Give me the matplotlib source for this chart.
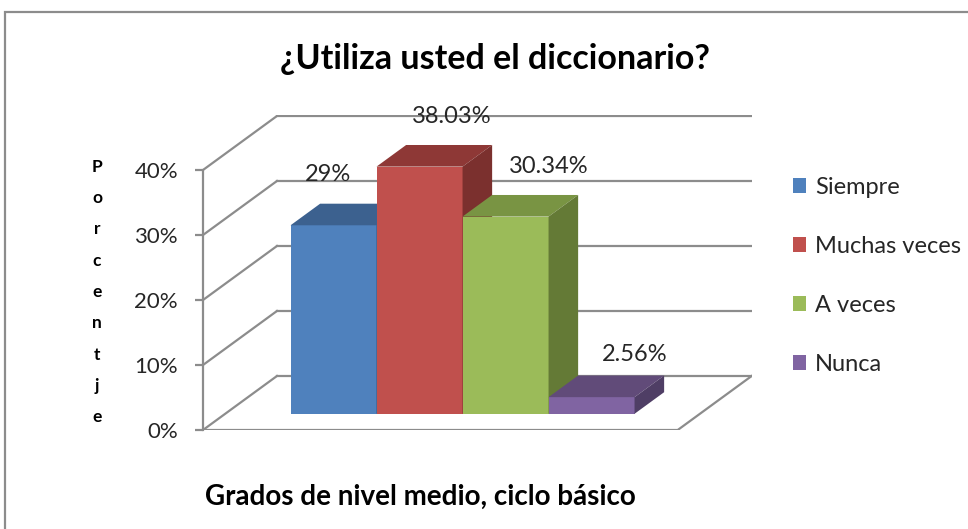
import matplotlib
matplotlib.use("Agg")
import matplotlib.pyplot as plt
from matplotlib.patches import Polygon, Patch, Rectangle

# ---- data ----
categories = ["Siempre", "Muchas veces", "A veces", "Nunca"]
values = [29.0, 38.03, 30.34, 2.56]
value_labels = ["29%", "38.03%", "30.34%", "2.56%"]
yticks = [0, 10, 20, 30, 40]
ytick_labels = ["0%", "10%", "20%", "30%", "40%"]
title = "¿Utiliza usted el diccionario?"
xlabel = "Grados de nivel medio, ciclo básico"
ylabel = "Porcentje"

# ---- style ----
front_colors = ["#4F81BD", "#C0504D", "#9BBB59", "#8064A2"]
top_colors = ["#3C618F", "#8E3836", "#799443", "#614B79"]
side_colors = ["#34547C", "#7B302E", "#647A36", "#4F3E65"]
grid_color = "#8C8C8C"
FONT = "Lato"

W, H = 968, 529
fig = plt.figure(figsize=(W / 100, H / 100), dpi=100)

# oblique depth projection (in data units)
DX, DY = 0.86, 8.31
Z0, Z1 = 0.3, 0.7
GAP = 0.76
floor_w = GAP * 2 + len(values)
px_per_x, px_per_y = 86.0, 6.5
ax_left_px, ax_bottom_px = 203, 430
xmax = floor_w + DX
ymax = 48.46
ax = fig.add_axes([ax_left_px / W, 1 - ax_bottom_px / H,
                   xmax * px_per_x / W, ymax * px_per_y / H])
ax.set_xlim(0, xmax)
ax.set_ylim(0, ymax)
ax.patch.set_visible(False)
for s in ["top", "right", "bottom"]:
    ax.spines[s].set_visible(False)
ax.spines["left"].set_bounds(0, 40)
ax.spines["left"].set_color(grid_color)
ax.spines["left"].set_linewidth(1.6)
ax.set_xticks([])
ax.set_yticks(yticks)
ax.set_yticklabels(ytick_labels, fontfamily=FONT, fontsize=16, color="#262626")
ax.tick_params(axis="y", length=6, width=1.6, color=grid_color, pad=12)

# walls: back gridlines and side diagonals
for t in yticks:
    ax.plot([DX, xmax], [t + DY, t + DY], color=grid_color, lw=1.6, zorder=1)
    ax.plot([0, DX], [t, t + DY], color=grid_color, lw=1.6, zorder=1)
# floor
ax.plot([0, floor_w, xmax], [0, 0, DY], color=grid_color, lw=1.6, zorder=1)

# bars
for i, v in enumerate(values):
    xl = GAP + i
    ax.bar(xl + Z0 * DX, v, width=1, bottom=Z0 * DY, align="edge",
           color=front_colors[i], linewidth=0, zorder=2 + i)
    top = [(xl + Z0 * DX, v + Z0 * DY), (xl + Z1 * DX, v + Z1 * DY),
           (xl + 1 + Z1 * DX, v + Z1 * DY), (xl + 1 + Z0 * DX, v + Z0 * DY)]
    side = [(xl + 1 + Z0 * DX, Z0 * DY), (xl + 1 + Z1 * DX, Z1 * DY),
            (xl + 1 + Z1 * DX, v + Z1 * DY), (xl + 1 + Z0 * DX, v + Z0 * DY)]
    ax.add_patch(Polygon(top, closed=True, facecolor=top_colors[i], lw=0, zorder=2 + i))
    ax.add_patch(Polygon(side, closed=True, facecolor=side_colors[i], lw=0, zorder=2 + i))

# value labels (offsets in pixels relative to top-back centre)
label_dx_px = [-35, 3, 14, 14]
label_dy_px = [29, 28, 28, 21]
for i, v in enumerate(values):
    xc = GAP + i + 0.5 + Z1 * DX
    yt = v + Z1 * DY
    ax.annotate(value_labels[i], (xc, yt),
                xytext=(label_dx_px[i] * 0.72, label_dy_px[i] * 0.72),
                textcoords="offset points", ha="center", va="center",
                fontfamily=FONT, fontsize=17, color="#262626", zorder=10,
                annotation_clip=False)

# titles
fig.text(495 / W, 1 - 59 / H, title, ha="center", va="center",
         fontfamily=FONT, fontweight="bold", fontsize=24.5, color="black")
fig.text(420 / W, 1 - 497 / H, xlabel, ha="center", va="center",
         fontfamily=FONT, fontweight="bold", fontsize=20, color="black")
fig.text(97 / W, 1 - 292 / H, "\n".join(ylabel), ha="center", va="center",
         fontfamily=FONT, fontweight="bold", fontsize=12.5, color="black",
         linespacing=2.18)

# legend
handles = [Patch(facecolor=c, edgecolor="none") for c in front_colors]
leg = fig.legend(handles, categories, loc="upper left",
                 bbox_to_anchor=(781 / W, 1 - 165 / H), frameon=False,
                 prop={"family": FONT, "size": 17},
                 handlelength=0.55, handleheight=0.55, handletextpad=0.4,
                 labelspacing=1.61, borderpad=0)
for t in leg.get_texts():
    t.set_color("#262626")

# chart border
fig.patches.append(Rectangle((5 / W, -0.1), 2, 1 - 12 / H + 0.1,
                             transform=fig.transFigure, fill=False,
                             edgecolor="#8C8C8C", linewidth=1.6))

fig.savefig("out.png", dpi=100)
